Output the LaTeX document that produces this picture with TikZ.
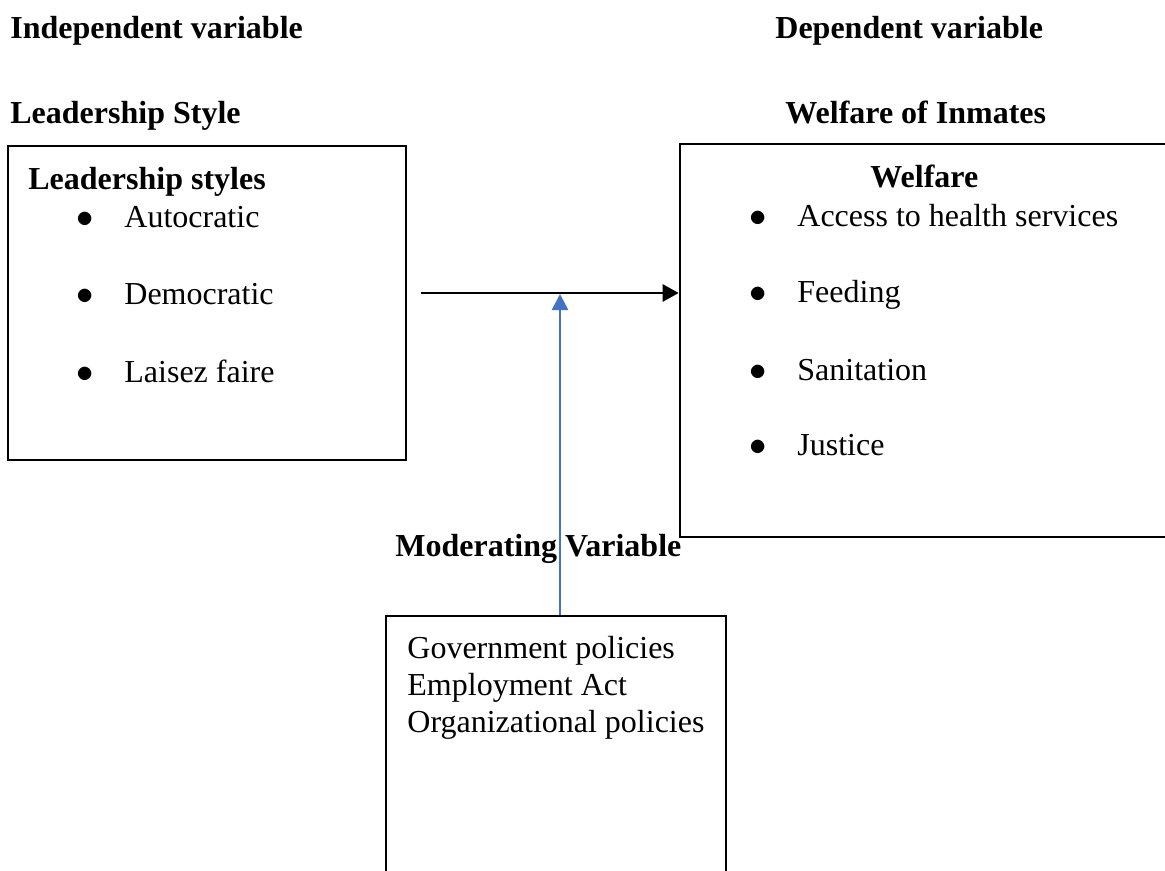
\documentclass[tikz,border=0pt]{standalone}
\usepackage{fontspec}
\setmainfont{Liberation Serif}
\usepackage{tikz}
\usetikzlibrary{arrows.meta,positioning,fit,calc}
\usepackage{xcolor}
\definecolor{modblue}{RGB}{68,114,196}

% bullet item: bullet, then text at a fixed indent
\newcommand{\bitem}[1]{\makebox[24pt][l]{$\bullet$}#1}

\begin{document}
\begin{tikzpicture}[x=0.5pt, y=-0.5pt, font=\fontsize{16}{18.4}\selectfont,
    box/.style={draw, line width=1.3pt, inner sep=0pt},
    head/.style={anchor=base west, inner sep=0pt, font=\fontsize{16}{18.4}\selectfont\bfseries},
    item/.style={anchor=base west, inner sep=0pt}]
        \useasboundingbox (0,0) rectangle (1165,871);
        \clip (0,0) rectangle (1165,871);

        % Headings
        \node[head] (indep) at (10,39) {Independent variable};
        \node[head] (lstyle) at (10,124) {Leadership Style};
        \node[head] (dep) at (775,39) {Dependent variable};
        \node[head] (winm) at (785,124) {Welfare of Inmates};

        % Leadership styles box
        \node[box, fit={(8,146) (406,460)}] (lead) {};
        \node[head] (leadtitle) at (28,190) {Leadership styles};
        \node[item] (auto) at (76,228) {\bitem{Autocratic}};
        \node[item] (demo) at (76,305) {\bitem{Democratic}};
        \node[item] (laisez) at (76,382) {\bitem{Laisez faire}};

        % Welfare box
        \node[box, fit={(680,144) (1200,537)}] (welf) {};
        \node[head] (welftitle) at (870,188) {Welfare};
        \node[item] (health) at (749,227) {\bitem{Access to health services}};
        \node[item] (feed) at (749,303) {\bitem{Feeding}};
        \node[item] (sanit) at (749,380) {\bitem{Sanitation}};
        \node[item] (just) at (749,455) {\bitem{Justice}};

        % Moderating variable
        \node[head] (modtitle) at (395,556) {Moderating Variable};
        \node[box, fit={(386,616) (726,900)}] (mod) {};
        \node[item] (gov) at (407,658) {Government policies};
        \node[item] (empl) at (407,695) {Employment Act};
        \node[item] (org) at (407,732) {Organizational policies};

        % Connections
        \coordinate (start) at (421,293);
        \coordinate (join) at (560,294);
        \draw[line width=1.3pt, -{Triangle[length=8pt,width=8.5pt]}] (start) -- (start -| welf.west);
        \draw[line width=1.3pt, modblue, -{Triangle[length=8pt,width=8pt]}] (join |- mod.north) -- (join);

    \end{tikzpicture}
\end{document}
